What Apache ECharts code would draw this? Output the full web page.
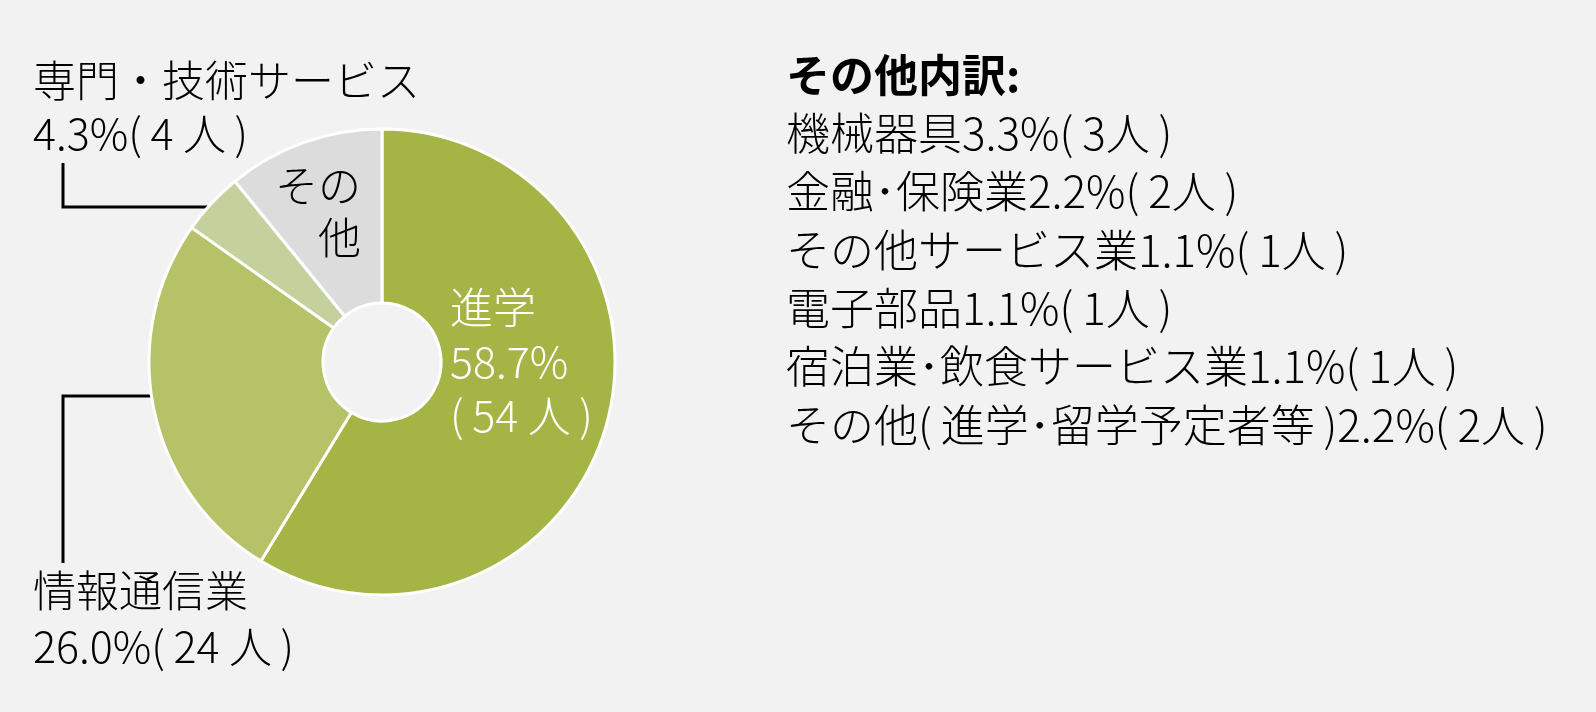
<!DOCTYPE html>
<html>
<head>
<meta charset="utf-8">
<script src="https://cdn.jsdelivr.net/npm/echarts@6/dist/echarts.min.js"></script>
<style>
html, body { margin: 0; padding: 0; background: #f2f2f2; }
#chart { width: 1596px; height: 712px; }
</style>
</head>
<body>
<div id="chart"></div>
<script>
// 卒業後の進路
var names = ['進学', '情報通信業', '専門・技術サービス', 'その他'];
var counts = [54, 24, 4, 10];
var pcts = ['58.7', '26.0', '4.3', '10.9'];
var colors = ['#a4b445', '#b5c267', '#c5d19d', '#dcdcdc'];

// その他内訳
var otherTitle = 'その他内訳:';
var otherNames = ['機械器具', '金融･保険業', 'その他サービス業', '電子部品', '宿泊業･飲食サービス業', 'その他(\u2009進学･留学予定者等\u2009)'];
var otherPcts = ['3.3', '2.2', '1.1', '1.1', '1.1', '2.2'];
var otherCounts = [3, 2, 1, 1, 1, 2];

var FONT = '"Noto Sans CJK JP", "Noto Sans", sans-serif';

var myChart = echarts.init(document.getElementById('chart'));

var data = [];
for (var i = 0; i < names.length; i++) {
  data.push({ name: names[i], value: counts[i], itemStyle: { color: colors[i] } });
}

// ラベルの位置 (x, 中心y)
var labelPos = [
  { x: 450, y: 362, align: 'left' },
  { x: 33, y: 619, align: 'left' },
  { x: 33, y: 107, align: 'left' },
  { x: 361, y: 212, align: 'right' }
];

var otherText = '{b|' + otherTitle + '}';
for (var i = 0; i < otherNames.length; i++) {
  otherText += '\n{n|' + otherNames[i] + otherPcts[i] + '%(\u2009' + otherCounts[i] + '人\u2009)}';
}

var option = {
  backgroundColor: '#f2f2f2',
  animation: false,
  series: [{
    type: 'pie',
    center: [382, 362],
    radius: [59, 233],
    startAngle: 90,
    clockwise: true,
    itemStyle: { borderColor: '#ffffff', borderWidth: 3 },
    labelLine: { show: false },
    label: {
      show: true,
      position: 'inside',
      overflow: 'none',
      fontFamily: FONT,
      fontSize: 43,
      fontWeight: 300,
      color: '#000',
      formatter: function (p) {
        var i = p.dataIndex;
        var cnt = '(\u2009' + counts[i] + ' 人\u2009)';
        if (i == 0) {
          return '{w|' + names[i] + '}\n{w|' + pcts[i] + '%}\n{w|' + cnt + '}';
        }
        if (i == 3) {
          return '{d|その}\n{d|他}';
        }
        var s = i == 1 ? 'm' : 'l';
        return '{' + s + '|' + names[i] + '}\n{' + s + '|' + pcts[i] + '%' + cnt + '}';
      },
      rich: {
        w: { color: '#ffffff', fontFamily: FONT, fontSize: 43, fontWeight: 300, lineHeight: 54, align: 'left' },
        d: { color: '#000', fontFamily: FONT, fontSize: 43, fontWeight: 300, lineHeight: 52, align: 'right' },
        l: { color: '#000', fontFamily: FONT, fontSize: 43, fontWeight: 300, lineHeight: 53, align: 'left' },
        m: { color: '#000', fontFamily: FONT, fontSize: 43, fontWeight: 300, lineHeight: 56, align: 'left' }
      }
    },
    labelLayout: function (params) {
      var p = labelPos[params.dataIndex];
      return { x: p.x, y: p.y, align: p.align, verticalAlign: 'middle' };
    },
    data: data
  }],
  graphic: [
    {
      type: 'polyline',
      shape: { points: [[210, 207], [63, 207], [63, 163]] },
      style: { stroke: '#000', lineWidth: 3, fill: null, lineJoin: 'miter' }
    },
    {
      type: 'polyline',
      shape: { points: [[152, 396], [63, 396], [63, 563]] },
      style: { stroke: '#000', lineWidth: 3, fill: null, lineJoin: 'miter' }
    },
    {
      type: 'text',
      left: 786,
      top: 53,
      style: {
        text: otherText,
        rich: {
          b: { fontFamily: FONT, fontSize: 44, fontWeight: 'bold', fill: '#000', lineHeight: 58.3 },
          n: { fontFamily: FONT, fontSize: 44, fontWeight: 300, fill: '#000', lineHeight: 58.3 }
        }
      }
    }
  ]
};
myChart.setOption(option);
</script>
</body>
</html>
